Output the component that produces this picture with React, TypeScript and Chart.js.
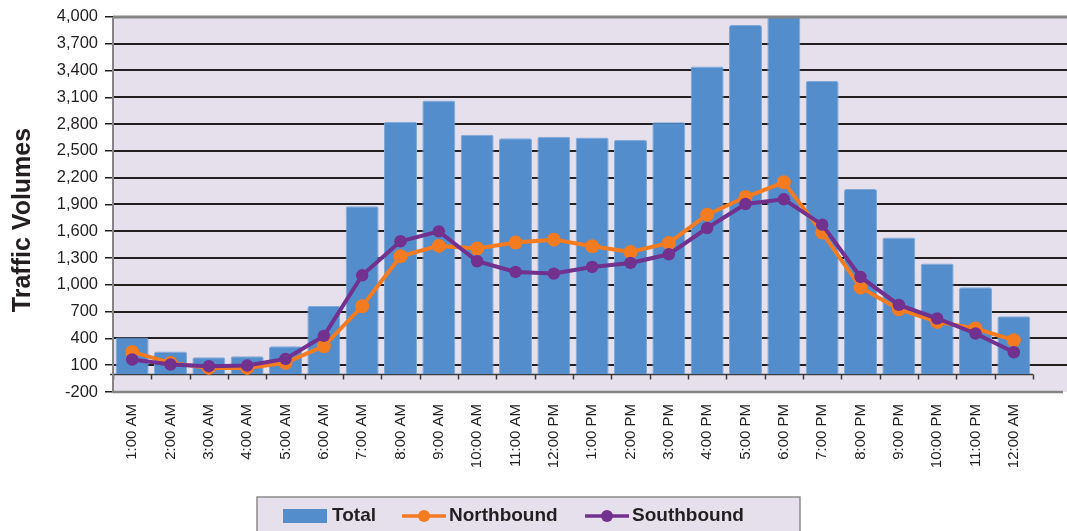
import React, { useEffect, useRef } from 'react';
import { Chart, registerables } from 'chart.js';

Chart.register(...registerables);

const HOURS = [
  '1:00 AM', '2:00 AM', '3:00 AM', '4:00 AM', '5:00 AM', '6:00 AM', '7:00 AM', '8:00 AM',
  '9:00 AM', '10:00 AM', '11:00 AM', '12:00 PM', '1:00 PM', '2:00 PM', '3:00 PM', '4:00 PM',
  '5:00 PM', '6:00 PM', '7:00 PM', '8:00 PM', '9:00 PM', '10:00 PM', '11:00 PM', '12:00 AM',
];

const TOTAL = [410, 253, 190, 200, 313, 764, 1879, 2827, 3065, 2681, 2640, 2659, 2650, 2625, 2819, 3446, 3908, 4000, 3281, 2073, 1529, 1238, 973, 648];
const NORTHBOUND = [249, 126, 70, 70, 126, 313, 760, 1320, 1436, 1406, 1473, 1506, 1432, 1368, 1469, 1786, 1983, 2148, 1585, 969, 727, 585, 511, 380];
const SOUTHBOUND = [164, 108, 89, 96, 170, 428, 1107, 1488, 1599, 1264, 1144, 1126, 1200, 1245, 1342, 1636, 1905, 1958, 1674, 1088, 775, 623, 455, 245];

const Y_TICKS = [-200, 100, 400, 700, 1000, 1300, 1600, 1900, 2200, 2500, 2800, 3100, 3400, 3700, 4000];

const Y_TITLE = 'Traffic Volumes';

const FONT = "'Liberation Sans', Arial, Helvetica, sans-serif";
const BG = '#E6E0EC';
const GRID = '#231F20';
const FRAME = '#858585';
const TEXT = '#231F20';
const BLUE = '#538DCB';
const ORANGE = '#F47B20';
const PURPLE = '#72308F';

const framePlugin = {
  id: 'frame',
  beforeDraw(chart: any) {
    const { ctx, chartArea, width } = chart;
    ctx.save();
    ctx.fillStyle = BG;
    ctx.fillRect(chartArea.left, chartArea.top, width - chartArea.left, chartArea.bottom - chartArea.top);
    ctx.restore();
  },
  beforeDatasetsDraw(chart: any) {
    const { ctx, chartArea, width, scales } = chart;
    const y = scales.y;
    const x = scales.x;
    ctx.save();
    ctx.strokeStyle = GRID;
    ctx.lineWidth = 2;
    Y_TICKS.forEach((v) => {
      if (v === Y_TICKS[0] || v === Y_TICKS[Y_TICKS.length - 1]) return;
      const py = Math.round(y.getPixelForValue(v));
      ctx.beginPath();
      ctx.moveTo(chartArea.left, py);
      ctx.lineTo(width, py);
      ctx.stroke();
    });
    const zy = Math.round(y.getPixelForValue(0)) + 0.5;
    ctx.strokeStyle = '#3a3a3a';
    ctx.lineWidth = 1.5;
    ctx.beginPath();
    ctx.moveTo(chartArea.left - 3, zy);
    ctx.lineTo(chartArea.right, zy);
    ctx.stroke();
    const n = HOURS.length;
    for (let i = 0; i <= n; i++) {
      let px;
      if (i === 0) px = chartArea.left;
      else if (i === n) px = chartArea.right;
      else px = (x.getPixelForValue(i - 1) + x.getPixelForValue(i)) / 2;
      px = Math.round(px) + 0.5;
      ctx.beginPath();
      ctx.moveTo(px, zy);
      ctx.lineTo(px, zy + 5);
      ctx.stroke();
    }
    ctx.restore();
  },
  afterDatasetsDraw(chart: any) {
    const { ctx, chartArea, width } = chart;
    ctx.save();
    ctx.strokeStyle = FRAME;
    ctx.lineWidth = 3;
    ctx.beginPath();
    ctx.moveTo(chartArea.left, chartArea.top);
    ctx.lineTo(width, chartArea.top);
    ctx.stroke();
    ctx.lineWidth = 2.5;
    ctx.beginPath();
    ctx.moveTo(chartArea.left, chartArea.bottom);
    ctx.lineTo(width - 4, chartArea.bottom);
    ctx.stroke();
    ctx.lineWidth = 2;
    ctx.beginPath();
    ctx.moveTo(chartArea.left, chartArea.top);
    ctx.lineTo(chartArea.left, chartArea.bottom);
    ctx.stroke();
    ctx.restore();
  },
  afterDraw(chart: any) {
    const { ctx } = chart;
    ctx.save();
    ctx.translate(23, 220);
    ctx.rotate(-Math.PI / 2);
    ctx.font = `bold 25px ${FONT}`;
    ctx.fillStyle = TEXT;
    ctx.textAlign = 'center';
    ctx.textBaseline = 'middle';
    ctx.fillText(Y_TITLE, 0, 0);
    ctx.restore();

    ctx.save();
    ctx.fillStyle = BG;
    ctx.strokeStyle = '#8c8c8c';
    ctx.lineWidth = 1.5;
    ctx.fillRect(257, 497, 543, 40);
    ctx.strokeRect(257, 497, 543, 40);
    const ds = chart.data.datasets;
    const cy = 516;
    ctx.font = `bold 19px ${FONT}`;
    ctx.textBaseline = 'middle';
    ctx.textAlign = 'left';
    ctx.fillStyle = ds[0].backgroundColor;
    ctx.fillRect(283, 509, 44, 14);
    ctx.fillStyle = TEXT;
    ctx.fillText(ds[0].label, 332, cy);
    const lineItem = (d: any, x0: number, x1: number, tx: number) => {
      ctx.strokeStyle = d.borderColor;
      ctx.lineWidth = 3.5;
      ctx.beginPath();
      ctx.moveTo(x0, cy);
      ctx.lineTo(x1, cy);
      ctx.stroke();
      ctx.fillStyle = d.borderColor;
      ctx.beginPath();
      ctx.arc((x0 + x1) / 2, cy, 6, 0, Math.PI * 2);
      ctx.fill();
      ctx.fillStyle = TEXT;
      ctx.fillText(d.label, tx, cy);
    };
    lineItem(ds[1], 402, 446, 449);
    lineItem(ds[2], 585, 629, 632);
    ctx.restore();
  },
};

export default function App() {
  const ref = useRef<HTMLCanvasElement | null>(null);

  useEffect(() => {
    document.body.style.margin = '0';
    if (!ref.current) return;
    const chart = new Chart(ref.current, {
      type: 'bar',
      data: {
        labels: HOURS,
        datasets: [
          {
            type: 'bar',
            label: 'Total',
            data: TOTAL,
            backgroundColor: BLUE,
            borderColor: '#7EA8D8',
            borderWidth: 1,
            borderRadius: 2,
            borderSkipped: 'bottom',
            barPercentage: 0.86,
            categoryPercentage: 1,
            order: 3,
          },
          {
            type: 'line',
            label: 'Northbound',
            data: NORTHBOUND,
            borderColor: ORANGE,
            backgroundColor: ORANGE,
            borderWidth: 4,
            pointRadius: 7,
            pointBorderWidth: 0,
            pointBackgroundColor: ORANGE,
            tension: 0,
            order: 2,
          },
          {
            type: 'line',
            label: 'Southbound',
            data: SOUTHBOUND,
            borderColor: PURPLE,
            backgroundColor: PURPLE,
            borderWidth: 4,
            pointRadius: 6.2,
            pointBorderWidth: 0,
            pointBackgroundColor: PURPLE,
            tension: 0,
            order: 1,
          },
        ] as any,
      },
      options: {
        responsive: false,
        animation: false,
        layout: { padding: { left: 0, top: 16, right: 34, bottom: 59 } },
        plugins: {
          legend: { display: false },
          tooltip: { enabled: false },
          title: { display: false },
        },
        scales: {
          x: {
            type: 'category',
            offset: true,
            grid: { display: false },
            border: { display: false },
            ticks: {
              autoSkip: false,
              maxRotation: 90,
              minRotation: 90,
              padding: 4,
              color: TEXT,
              font: { family: FONT, size: 15 },
            },
            afterFit(scale: any) {
              scale.height = 80;
            },
          },
          y: {
            type: 'linear',
            min: Y_TICKS[0],
            max: Y_TICKS[Y_TICKS.length - 1],
            grid: {
              drawOnChartArea: false,
              drawTicks: true,
              tickLength: 8,
              color: GRID,
              lineWidth: 1.5,
            },
            border: { display: false },
            afterBuildTicks(scale: any) {
              scale.ticks = Y_TICKS.map((v) => ({ value: v }));
            },
            afterFit(scale: any) {
              scale.width = 113;
            },
            ticks: {
              padding: 7,
              color: TEXT,
              font: { family: FONT, size: 16.5 },
              callback: (v: any) => Number(v).toLocaleString('en-US'),
            },
          },
        },
      },
      plugins: [framePlugin],
    });
    return () => chart.destroy();
  }, []);

  return (
    <div style={{ position: 'fixed', left: 0, top: 0, width: 1067, height: 531, background: '#fff' }}>
      <canvas ref={ref} width={1067} height={531} />
    </div>
  );
}
